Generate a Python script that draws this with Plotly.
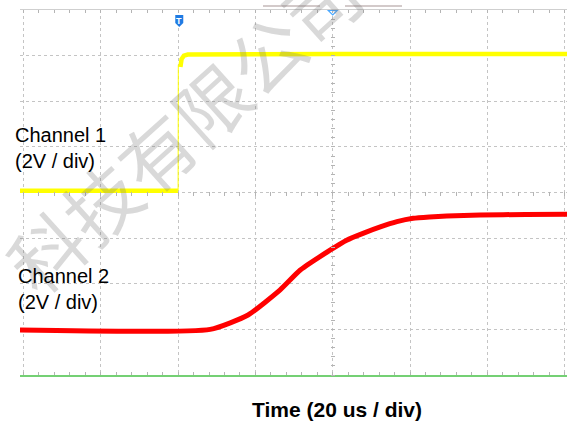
"""
Capture oscilloscope : Channel 1 (front) et Channel 2 (montée lente).
"""

import plotly.graph_objects as go

# Réglages de l'écran
T_DIV_US = 20
V_DIV = 2
X_RANGE = [-40.9, 100.6]
Y_RANGE = [-8, 8]
SCREEN_CENTER_US = 40
TRIGGER_US = 0.3

# Channel 1 (jaune) : bas, front, haut
ch1_low_t = [-40.9, -0.05]
ch1_low_v = [0.08, 0.08]
ch1_edge_t = [0.0, 0.05]
ch1_edge_v = [0.08, 5.6]
ch1_high_t = [0.6, 0.9, 1.5, 2.5, 40.0, 100.6]
ch1_high_v = [5.5, 5.85, 6.0, 6.05, 6.07, 6.07]

# Channel 2 (rouge)
ch2_t = [-40.9, 8.3, 18.1, 26.4, 31.6, 39.3, 43.6, 48.0, 52.3, 56.6, 60.8, 65.0, 69.5, 78.1, 90.0, 100.6]
ch2_v = [-6.03, -6.0, -5.37, -4.27, -3.40, -2.53, -2.09, -1.78, -1.51, -1.28, -1.13, -1.07, -1.03, -0.99, -0.96, -0.95]

COLORS = {
    "jaune": "#ffff00",
    "rouge": "#ff0000",
    "grille": "#c4c4c4",
    "tick": "#b4b4b4",
    "vert": "#74d074",
    "haut": "#cfcfcf",
    "bleu": "#1f7be3",
    "bleu_clair": "#4aa8ff",
    "texte": "#000000",
}
FONT = "Arial, 'Liberation Sans', sans-serif"

W, H = 567, 423
M = dict(l=20, r=0, t=10, b=48)
PW = W - M["l"] - M["r"]
PH = H - M["t"] - M["b"]


def px_x(x):
    """Pixel horizontal -> fraction du papier."""
    return (x - M["l"]) / PW


def px_y(y):
    """Pixel vertical (depuis le haut) -> fraction du papier."""
    return (M["t"] + PH - y) / PH


fig = go.Figure()

fig.add_trace(go.Scatter(
    x=ch1_low_t, y=ch1_low_v, mode="lines",
    line=dict(color=COLORS["jaune"], width=4.5), hoverinfo="skip",
))
fig.add_trace(go.Scatter(
    x=ch1_edge_t, y=ch1_edge_v, mode="lines",
    line=dict(color=COLORS["jaune"], width=1), hoverinfo="skip",
))
fig.add_trace(go.Scatter(
    x=ch1_high_t, y=ch1_high_v, mode="lines",
    line=dict(color=COLORS["jaune"], width=4.5), hoverinfo="skip",
))
fig.add_trace(go.Scatter(
    x=ch2_t, y=ch2_v, mode="lines",
    line=dict(color=COLORS["rouge"], width=5, shape="spline", smoothing=0.5),
    hoverinfo="skip",
))

# traces vides pour que les axes de graduation soient dessinés
for xa, ya in [("x2", "y"), ("x3", "y"), ("x", "y2")]:
    fig.add_trace(go.Scatter(x=[], y=[], xaxis=xa, yaxis=ya, hoverinfo="skip"))

AX = dict(showticklabels=False, zeroline=False, fixedrange=True)

x_minor = dict(dtick=T_DIV_US / 5, ticklen=3, tickcolor=COLORS["tick"], showgrid=False)
y_minor = dict(dtick=V_DIV / 5, ticklen=4, tickcolor=COLORS["tick"], showgrid=False)

center_pos = (SCREEN_CENTER_US - X_RANGE[0]) / (X_RANGE[1] - X_RANGE[0])

fig.update_layout(
    width=W, height=H, margin=M,
    paper_bgcolor="white", plot_bgcolor="white",
    showlegend=False,
    font=dict(family=FONT, color=COLORS["texte"]),
    xaxis=dict(
        **AX, range=X_RANGE, tick0=0, dtick=T_DIV_US,
        showgrid=True, gridcolor=COLORS["grille"], griddash="dot", gridwidth=1,
        ticks="inside", ticklen=3, tickcolor=COLORS["tick"],
        minor=dict(**x_minor, ticks="inside"),
        showline=True, linecolor=COLORS["vert"], linewidth=1.5,
    ),
    xaxis2=dict(
        **AX, range=X_RANGE, tick0=0, dtick=T_DIV_US, overlaying="x",
        side="top", anchor="y", showgrid=False,
        ticks="inside", ticklen=3, tickcolor=COLORS["tick"],
        minor=dict(**x_minor, ticks="inside"),
        showline=True, linecolor=COLORS["haut"], linewidth=1.2,
    ),
    xaxis3=dict(
        **AX, range=X_RANGE, tick0=0, dtick=T_DIV_US, overlaying="x",
        anchor="free", position=0.5 + 2 / PH, side="bottom", showgrid=False,
        ticks="outside", ticklen=4, tickcolor=COLORS["tick"],
        minor=dict(dtick=T_DIV_US / 5, ticklen=4, tickcolor=COLORS["tick"], ticks="outside"),
        showline=False,
    ),
    yaxis=dict(
        **AX, range=Y_RANGE, tick0=0, dtick=V_DIV,
        showgrid=True, gridcolor=COLORS["grille"], griddash="dot", gridwidth=1,
        ticks="", showline=False,
    ),
    yaxis2=dict(
        **AX, range=Y_RANGE, tick0=0, dtick=V_DIV, overlaying="y",
        anchor="free", position=center_pos + 2 / PW, side="left", showgrid=False,
        ticks="outside", ticklen=4, tickcolor=COLORS["tick"],
        minor=dict(**y_minor, ticks="outside"),
        showline=False,
    ),
)

# Repères de l'écran : trigger, centre, barre d'enregistrement
fig.add_shape(
    type="path", xref="x", yref="y", xsizemode="pixel", ysizemode="pixel",
    xanchor=TRIGGER_US, yanchor=Y_RANGE[1],
    path="M -4,-5 L 4,-5 L 4,-13 L 0,-17 L -4,-13 Z",
    fillcolor=COLORS["bleu"], line=dict(width=0), layer="above",
)
fig.add_annotation(
    x=TRIGGER_US, y=Y_RANGE[1], xref="x", yref="y", yanchor="top", yshift=-4,
    text="<b>T</b>", showarrow=False, font=dict(size=9, color="white"),
)
fig.add_shape(
    type="path", xref="x", yref="y", xsizemode="pixel", ysizemode="pixel",
    xanchor=SCREEN_CENTER_US, yanchor=Y_RANGE[1],
    path="M -4.5,-0.5 L 4.5,-0.5 L 0,-5 Z",
    line=dict(color=COLORS["bleu_clair"], width=1.2), layer="above",
)
for x0, x1 in [(263, 320), (345, 402)]:
    fig.add_shape(
        type="line", xref="paper", yref="paper",
        x0=px_x(x0), x1=px_x(x1), y0=px_y(6), y1=px_y(6),
        line=dict(color="#c4b8b8", width=1.5),
    )

# Filigrane
fig.add_annotation(
    x=px_x(182), y=px_y(126), xref="paper", yref="paper",
    xanchor="center", yanchor="middle",
    text="科技有限公司", showarrow=False, textangle=-42,
    font=dict(family="Noto Sans CJK SC", size=74, color="rgba(120,120,120,0.28)"),
)

# Libellés
fig.add_annotation(
    x=px_x(13), y=px_y(148), xref="paper", yref="paper",
    xanchor="left", yanchor="middle", align="left",
    text="Channel 1<br>(2V / div)", showarrow=False, font=dict(size=20),
)
fig.add_annotation(
    x=px_x(16), y=px_y(289), xref="paper", yref="paper",
    xanchor="left", yanchor="middle", align="left",
    text="Channel 2<br>(2V / div)", showarrow=False, font=dict(size=20),
)
fig.add_annotation(
    x=px_x(337), y=px_y(409), xref="paper", yref="paper",
    xanchor="center", yanchor="middle",
    text="<b>Time (20 us / div)</b>", showarrow=False, font=dict(size=21),
)

# la page par défaut ajoute une marge de 8 px autour du graphique
fig.write_html(
    "out.html",
    config={"displayModeBar": False},
    post_script="document.body.style.margin='0';document.body.style.overflow='hidden';",
)
